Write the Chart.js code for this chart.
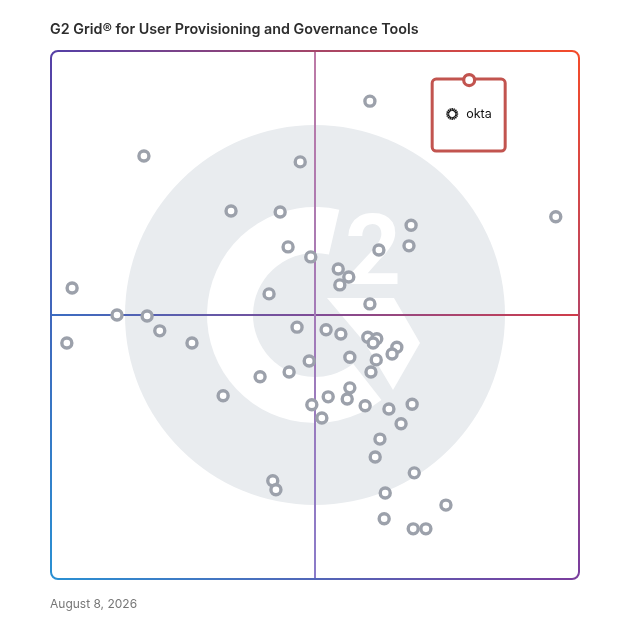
<!DOCTYPE html>
<html>
<head>
<meta charset="utf-8">
<script src="https://cdn.jsdelivr.net/npm/chart.js@4/dist/chart.umd.min.js"></script>
<style>
  html, body { margin: 0; padding: 0; background: #fff; }
  #wrap { position: relative; width: 628px; height: 628px; }
  #grid { position: absolute; left: 0; top: 0; }
  .title { position: absolute; left: 50px; top: 20px; font: 600 14.3px "Inter", sans-serif; color: #2d2d2d; }
  .date { position: absolute; left: 50px; top: 596px; font: 400 12px "Inter", sans-serif; color: #777; }
</style>
</head>
<body>
<div id="wrap">
  <canvas id="grid" width="628" height="628"></canvas>
  <div class="title">G2 Grid® for User Provisioning and Governance Tools</div>
  <div class="date">August 8, 2026</div>
</div>
<script>
// Satisfaction (x) and market presence (y), 0-100
const productX = [17.6, 47.2, 34.1, 43.4, 44.9, 49.2, 4.0, 41.3, 12.5, 18.2,
  60.4, 95.6, 68.2, 67.8, 62.1, 54.4, 56.4, 54.7, 60.4, 20.6,
  3.0, 26.7, 46.6, 52.1, 54.9, 60.0, 61.7, 61.0, 65.5, 64.6,
  48.9, 56.6, 61.6, 60.6, 45.1, 39.6, 32.6, 56.6, 56.1, 52.5,
  49.4, 51.3, 59.5, 64.0, 68.4, 66.3, 62.3, 61.4, 68.8, 42.0,
  42.6, 63.3, 74.8, 63.1, 68.6, 71.0];
const productY = [80.1, 79.0, 69.7, 69.5, 62.9, 61.0, 55.1, 54.0, 50.0, 49.8,
  90.5, 68.6, 67.0, 63.1, 62.3, 58.7, 57.2, 55.7, 52.1, 47.0,
  44.7, 44.7, 47.7, 47.2, 46.4, 45.8, 45.5, 44.7, 43.9, 42.6,
  41.3, 42.0, 41.5, 39.2, 39.2, 38.3, 34.7, 36.2, 34.1, 34.5,
  33.0, 30.5, 32.8, 32.2, 33.1, 29.4, 26.5, 23.1, 20.1, 18.6,
  16.9, 16.3, 14.0, 11.4, 9.5, 9.5];
const highlightName = 'okta';
const highlightX = [79.2];
const highlightY = [94.5];

const points = productX.map((x, i) => ({ x: x, y: productY[i] }));
const highlight = highlightX.map((x, i) => ({ x: x, y: highlightY[i] }));

function deg(a) { return a * Math.PI / 180; }

// G2 watermark, quadrant lines and gradient frame
const gridBackground = {
  id: 'gridBackground',
  beforeDatasetsDraw(chart) {
    const ctx = chart.ctx;
    const { left, top, right, bottom } = chart.chartArea;
    const cx = chart.scales.x.getPixelForValue(50);
    const cy = chart.scales.y.getPixelForValue(50);
    const s = (right - left) / 528;
    ctx.save();

    // logo disc
    ctx.fillStyle = '#e9ecef';
    ctx.beginPath();
    ctx.arc(cx, cy, 190 * s, 0, Math.PI * 2);
    ctx.fill();

    // G ring
    ctx.fillStyle = '#ffffff';
    ctx.beginPath();
    ctx.arc(cx, cy, 108 * s, deg(-77), deg(52), true);
    ctx.arc(cx, cy, 62 * s, deg(52), deg(-77), false);
    ctx.closePath();
    ctx.fill();

    // arrow
    ctx.beginPath();
    ctx.moveTo(cx + 12 * s, cy - 17 * s);
    ctx.lineTo(cx + 79 * s, cy - 17 * s);
    ctx.lineTo(cx + 105 * s, cy + 28 * s);
    ctx.lineTo(cx + 78 * s, cy + 75 * s);
    ctx.lineTo(cx + 50 * s, cy + 28 * s);
    ctx.closePath();
    ctx.fill();

    // the 2
    ctx.font = 'bold ' + Math.round(98 * s) + 'px Roboto';
    ctx.textAlign = 'center';
    ctx.textBaseline = 'alphabetic';
    ctx.fillText('2', cx + 58 * s, cy - 31 * s);

    // quadrant lines
    ctx.lineWidth = 2;
    let g = ctx.createLinearGradient(left, 0, right, 0);
    g.addColorStop(0, '#3b6dc2');
    g.addColorStop(0.5, '#7f4c96');
    g.addColorStop(1, '#d03c4a');
    ctx.strokeStyle = g;
    ctx.beginPath();
    ctx.moveTo(left, cy);
    ctx.lineTo(right, cy);
    ctx.stroke();

    g = ctx.createLinearGradient(0, top, 0, bottom);
    g.addColorStop(0, '#bd7aa6');
    g.addColorStop(1, '#8a7bc9');
    ctx.strokeStyle = g;
    ctx.beginPath();
    ctx.moveTo(cx, top);
    ctx.lineTo(cx, bottom);
    ctx.stroke();

    // frame, one gradient per side
    const r = 7;
    const cTL = '#5640a6', cTR = '#f34b2b', cBL = '#2a8fd2', cBR = '#7a3e9e';
    function side(x1, y1, x2, y2, c1, c2) {
      const lg = ctx.createLinearGradient(x1, y1, x2, y2);
      lg.addColorStop(0, c1);
      lg.addColorStop(1, c2);
      ctx.strokeStyle = lg;
      ctx.beginPath();
      ctx.moveTo(x1, y1);
      ctx.lineTo(x2, y2);
      ctx.stroke();
    }
    function corner(x, y, a0, a1, c) {
      ctx.strokeStyle = c;
      ctx.beginPath();
      ctx.arc(x, y, r, a0, a1);
      ctx.stroke();
    }
    side(left + r, top, right - r, top, cTL, cTR);
    side(right, top + r, right, bottom - r, cTR, cBR);
    side(left + r, bottom, right - r, bottom, cBL, cBR);
    side(left, top + r, left, bottom - r, cTL, cBL);
    corner(left + r, top + r, Math.PI, Math.PI * 1.5, cTL);
    corner(right - r, top + r, Math.PI * 1.5, Math.PI * 2, cTR);
    corner(right - r, bottom - r, 0, Math.PI * 0.5, cBR);
    corner(left + r, bottom - r, Math.PI * 0.5, Math.PI, cBL);

    // highlight card
    const hx = chart.scales.x.getPixelForValue(highlightX[0]);
    const hy = chart.scales.y.getPixelForValue(highlightY[0]);
    ctx.fillStyle = '#ffffff';
    ctx.strokeStyle = '#c2544f';
    ctx.lineWidth = 3;
    ctx.beginPath();
    ctx.roundRect(hx - 37, hy - 1, 73, 72, 4);
    ctx.fill();
    ctx.stroke();

    // okta mark
    const lx = hx - 17, ly = hy + 34;
    ctx.strokeStyle = '#111';
    ctx.lineWidth = 1.4;
    for (let i = 0; i < 16; i++) {
      const a = i * Math.PI * 2 / 16;
      ctx.beginPath();
      ctx.moveTo(lx + Math.cos(a) * 3, ly + Math.sin(a) * 3);
      ctx.lineTo(lx + Math.cos(a) * 6, ly + Math.sin(a) * 6);
      ctx.stroke();
    }
    ctx.fillStyle = '#111';
    ctx.font = '400 12.5px "Inter", sans-serif';
    ctx.textAlign = 'left';
    ctx.textBaseline = 'middle';
    ctx.fillText(highlightName, hx - 3, ly);
    ctx.restore();
  }
};

new Chart(document.getElementById('grid'), {
  type: 'scatter',
  data: {
    datasets: [{
      label: 'Products',
      data: points,
      pointRadius: 5,
      pointBorderWidth: 3.4,
      pointBorderColor: '#9ca1ab',
      pointBackgroundColor: '#ffffff'
    }, {
      label: highlightName,
      data: highlight,
      pointRadius: 5.5,
      pointBorderWidth: 3.2,
      pointBorderColor: '#c2544f',
      pointBackgroundColor: '#ffffff'
    }]
  },
  options: {
    responsive: false,
    animation: false,
    layout: { padding: { left: 51, top: 51, right: 49, bottom: 49 } },
    scales: {
      x: { display: false, min: 0, max: 100 },
      y: { display: false, min: 0, max: 100 }
    },
    plugins: {
      legend: { display: false },
      tooltip: { enabled: false }
    }
  },
  plugins: [gridBackground]
});
</script>
</body>
</html>
